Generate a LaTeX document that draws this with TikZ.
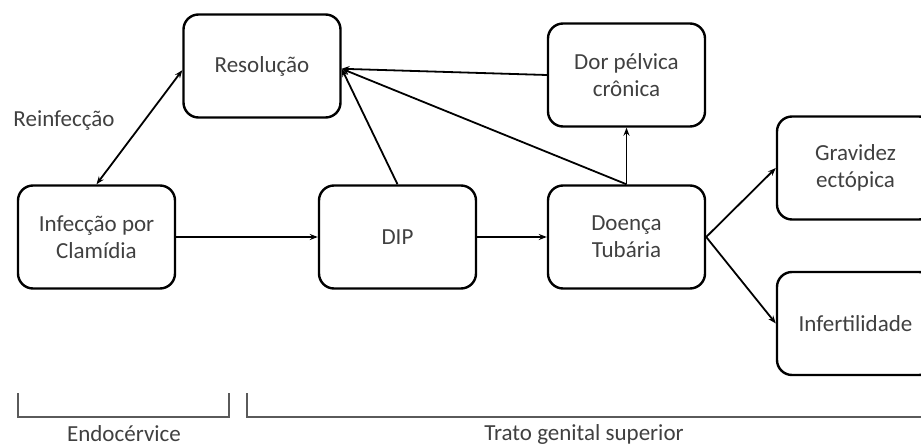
\documentclass[tikz,border=0pt]{standalone}
\usepackage{fontspec}
\setmainfont{Carlito}
\usetikzlibrary{arrows.meta}
\definecolor{txtgray}{RGB}{64,64,64}
\definecolor{brgray}{RGB}{90,90,90}

\begin{document}
\begin{tikzpicture}[x=1pt,y=-1pt, >={Stealth[length=8pt,width=6pt]},
    bnode/.style={draw,rounded corners=15pt,line width=2.4pt,minimum width=157pt,minimum height=103pt,inner sep=0pt,align=center,text=txtgray,font=\fontsize{23}{27}\selectfont},
    lnode/.style={text=txtgray,font=\fontsize{23}{27}\selectfont},
    conn/.style={line width=1.8pt}]
    \useasboundingbox (0,0) rectangle (921,446);
    \node[bnode] (res) at (262,66) {Resolução};
    \node[bnode] (dor) at (626.5,75) {Dor pélvica\\crônica};
    \node[bnode] (inf) at (96.5,237) {Infecção por\\Clamídia};
    \node[bnode] (dip) at (397.5,237) {DIP};
    \node[bnode] (tub) at (626.5,237) {Doença\\Tubária};
    \node[bnode] (grav) at (855.5,168) {Gravidez\\ectópica};
    \node[bnode] (infert) at (855.5,323.5) {Infertilidade};
    \node[lnode] (rein) at (64,121) {Reinfecção};

    \draw[conn,<->] (res.183) -- (inf.north);
    \draw[conn,->] (inf) -- (dip);
    \draw[conn,->] (dip) -- (tub);
    \draw[conn,->] (dip.north) -- (res.358);
    \draw[conn,->] (tub.north) -- (res.358);
    \draw[conn,->] (dor.west) -- (res.358);
    \draw[conn,->] (tub.north) -- (dor.south);
    \draw[conn,->] (tub.east) -- (grav.west);
    \draw[conn,->] (tub.east) -- (infert.west);

    % brackets
    \draw[brgray,line width=1.4pt] (18,393) -- (18,417) -- (229,417) -- (229,393);
    \draw[brgray,line width=1.4pt] (247,393) -- (247,417) -- (925,417);
    \node[lnode] (endo) at (124,434) {Endocérvice};
    \node[lnode] (trato) at (584,434) {Trato genital superior};
\end{tikzpicture}
\end{document}
